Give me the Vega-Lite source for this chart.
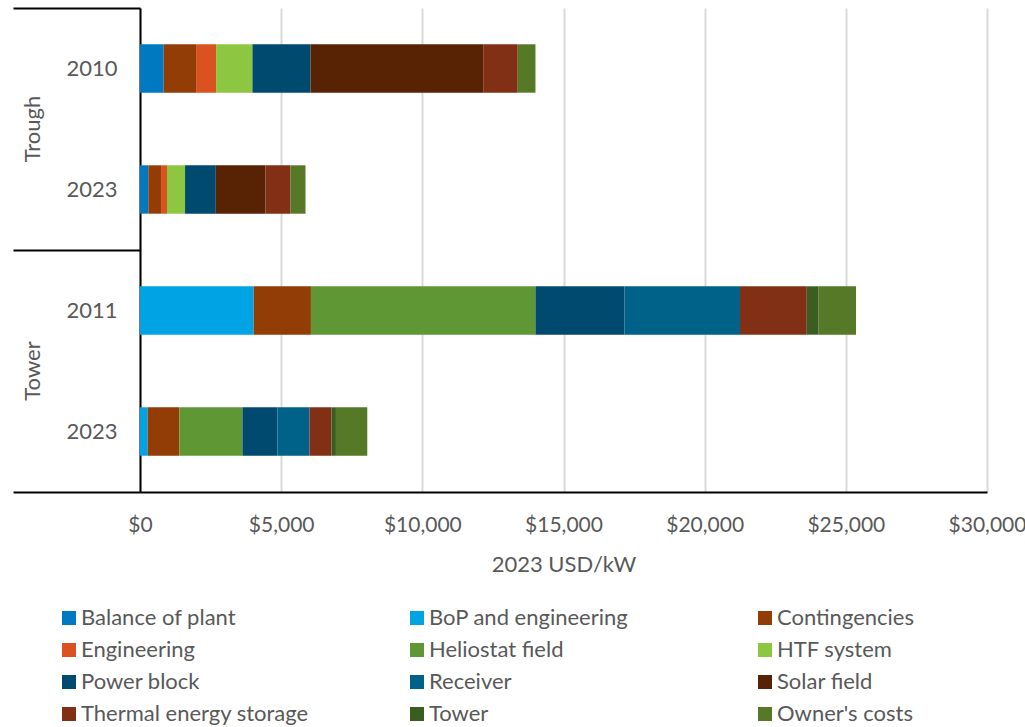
{
  "$schema": "https://vega.github.io/schema/vega-lite/v6.json",
  "width": 847,
  "height": 484,
  "autosize": {"type": "none"},
  "padding": {"left": 140, "top": 8, "right": 38, "bottom": 235},
  "config": {"font": "Lato", "view": {"stroke": null}},
  "data": {
    "values": [
      {"tech": "Trough", "year": "2010", "component": "Balance of plant", "cost": 840},
      {"tech": "Trough", "year": "2010", "component": "Contingencies", "cost": 1146},
      {"tech": "Trough", "year": "2010", "component": "Engineering", "cost": 709},
      {"tech": "Trough", "year": "2010", "component": "HTF system", "cost": 1287},
      {"tech": "Trough", "year": "2010", "component": "Power block", "cost": 2057},
      {"tech": "Trough", "year": "2010", "component": "Solar field", "cost": 6134},
      {"tech": "Trough", "year": "2010", "component": "Thermal energy storage", "cost": 1206},
      {"tech": "Trough", "year": "2010", "component": "Owner's costs", "cost": 628},
      {"tech": "Trough", "year": "2023", "component": "Balance of plant", "cost": 294},
      {"tech": "Trough", "year": "2023", "component": "Contingencies", "cost": 451},
      {"tech": "Trough", "year": "2023", "component": "Engineering", "cost": 212},
      {"tech": "Trough", "year": "2023", "component": "HTF system", "cost": 639},
      {"tech": "Trough", "year": "2023", "component": "Power block", "cost": 1088},
      {"tech": "Trough", "year": "2023", "component": "Solar field", "cost": 1759},
      {"tech": "Trough", "year": "2023", "component": "Thermal energy storage", "cost": 887},
      {"tech": "Trough", "year": "2023", "component": "Owner's costs", "cost": 532},
      {"tech": "Tower", "year": "2011", "component": "BoP and engineering", "cost": 4024},
      {"tech": "Tower", "year": "2011", "component": "Contingencies", "cost": 2030},
      {"tech": "Tower", "year": "2011", "component": "Heliostat field", "cost": 7952},
      {"tech": "Tower", "year": "2011", "component": "Power block", "cost": 3154},
      {"tech": "Tower", "year": "2011", "component": "Receiver", "cost": 4091},
      {"tech": "Tower", "year": "2011", "component": "Thermal energy storage", "cost": 2366},
      {"tech": "Tower", "year": "2011", "component": "Tower", "cost": 420},
      {"tech": "Tower", "year": "2011", "component": "Owner's costs", "cost": 1323},
      {"tech": "Tower", "year": "2023", "component": "BoP and engineering", "cost": 273},
      {"tech": "Tower", "year": "2023", "component": "Contingencies", "cost": 1121},
      {"tech": "Tower", "year": "2023", "component": "Heliostat field", "cost": 2234},
      {"tech": "Tower", "year": "2023", "component": "Power block", "cost": 1241},
      {"tech": "Tower", "year": "2023", "component": "Receiver", "cost": 1134},
      {"tech": "Tower", "year": "2023", "component": "Thermal energy storage", "cost": 781},
      {"tech": "Tower", "year": "2023", "component": "Tower", "cost": 156},
      {"tech": "Tower", "year": "2023", "component": "Owner's costs", "cost": 1110}
    ]
  },
  "transform": [
    {"calculate": "datum.tech + '|' + datum.year", "as": "key"},
    {"calculate": "indexof(['Balance of plant','BoP and engineering','Contingencies','Engineering','Heliostat field','HTF system','Power block','Receiver','Solar field','Thermal energy storage','Tower','Owner\\'s costs'], datum.component)", "as": "ord"}
  ],
  "layer": [
    {
      "mark": {"type": "bar", "height": {"band": 0.4}},
      "encoding": {
        "y": {
          "field": "key", "type": "nominal",
          "sort": ["Trough|2010", "Trough|2023", "Tower|2011", "Tower|2023"],
          "scale": {"paddingInner": 0, "paddingOuter": 0},
          "axis": {
            "title": null,
            "labelExpr": "split(datum.label, '|')[1]",
            "tickBand": "extent",
            "tickSize": 127,
            "tickWidth": 2,
            "tickColor": {"condition": {"test": "datum.value === 'Trough|2010' || datum.value === 'Tower|2011'", "value": "transparent"}, "value": "#000000"},
            "domainColor": "#000000",
            "domainWidth": 2,
            "labelPadding": -104,
            "labelFontSize": 22,
            "labelColor": "#595959",
            "labelAlign": "right",
            "labelBaseline": "middle",
            "grid": false
          }
        },
        "x": {
          "field": "cost", "type": "quantitative", "stack": "zero",
          "scale": {"domain": [0, 30000], "nice": false},
          "axis": {
            "title": "2023 USD/kW",
            "format": "$,.0f",
            "values": [0, 5000, 10000, 15000, 20000, 25000, 30000],
            "labelFlush": false,
            "grid": true,
            "gridColor": "#d9d9d9",
            "gridWidth": 2,
            "ticks": false,
            "domainColor": "#000000",
            "domainWidth": 2,
            "labelPadding": 22,
            "labelFontSize": 21,
            "labelColor": "#595959",
            "titleFontSize": 22,
            "titleColor": "#595959",
            "titleFontWeight": "normal",
            "titlePadding": 19
          }
        },
        "color": {
          "field": "component", "type": "nominal",
          "scale": {
            "domain": ["Balance of plant", "BoP and engineering", "Contingencies", "Engineering", "Heliostat field", "HTF system", "Power block", "Receiver", "Solar field", "Thermal energy storage", "Tower", "Owner's costs"],
            "range": ["#0079c1", "#00a3e3", "#923c06", "#da5220", "#5e9733", "#8dc641", "#004a70", "#006289", "#582304", "#823015", "#3a5e20", "#567928"]
          },
          "legend": {
            "orient": "none",
            "legendX": -82,
            "legendY": 599,
            "padding": 0,
            "columns": 3,
            "direction": "horizontal",
            "title": null,
            "symbolType": "square",
            "symbolSize": 196,
            "symbolStrokeWidth": 0,
            "labelFontSize": 22,
            "labelColor": "#595959",
            "labelOffset": 1,
            "labelLimit": 400,
            "rowPadding": 10,
            "columnPadding": 97,
            "gridAlign": "all"
          }
        },
        "order": {"field": "ord", "type": "quantitative"}
      }
    },
    {
      "mark": {"type": "bar", "opacity": 0},
      "encoding": {
        "y": {
          "field": "tech", "type": "nominal",
          "sort": ["Trough", "Tower"],
          "scale": {"paddingInner": 0, "paddingOuter": 0},
          "axis": {
            "orient": "left",
            "title": null,
            "ticks": false,
            "domain": false,
            "grid": false,
            "labelAngle": -90,
            "labelAlign": "center",
            "labelBaseline": "middle",
            "labelPadding": 108,
            "labelFontSize": 22,
            "labelColor": "#595959"
          }
        }
      }
    }
  ],
  "resolve": {"scale": {"y": "independent"}, "axis": {"y": "independent"}}
}
